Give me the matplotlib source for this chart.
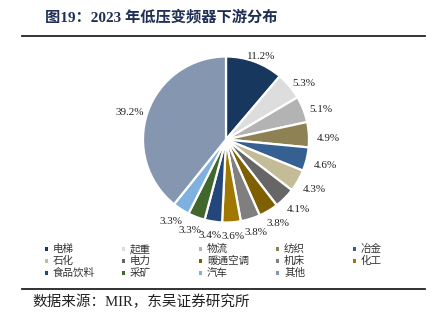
import numpy as np
import matplotlib
matplotlib.use("Agg")
import matplotlib.pyplot as plt
from matplotlib.patches import Rectangle
from matplotlib.lines import Line2D

plt.rcParams["font.family"] = ["Liberation Serif", "Noto Sans CJK SC"]
plt.rcParams["axes.unicode_minus"] = False

# ── 数据 ─────────────────────────────────────────
categories = ["电梯", "起重", "物流", "纺织", "冶金",
              "石化", "电力", "暖通空调", "机床", "化工",
              "食品饮料", "采矿", "汽车", "其他"]
shares = [11.2, 5.3, 5.1, 4.9, 4.6, 4.3, 4.1, 3.8, 3.8, 3.6, 3.4, 3.3, 3.3, 39.2]
colors = ["#17375E", "#DDDDDD", "#B3B3B3", "#8E8254", "#376092",
          "#C4BC96", "#666666", "#7F6000", "#7F7F7F", "#A07800",
          "#23477A", "#40672C", "#7EB0E0", "#8496B0"]

TITLE = "图19：2023 年低压变频器下游分布"
SOURCE = "数据来源：MIR，东吴证券研究所"

W, H = 436, 329
fig = plt.figure(figsize=(W / 100, H / 100), dpi=100)

# 饼图位置 (像素)
cx, cy, R = 226, 139.5, 83
half = 1.4 * R
ax = fig.add_axes([(cx - half) / W, (H - cy - half) / H, 2 * half / W, 2 * half / H])

wedges, _ = ax.pie(shares, colors=colors, startangle=90, counterclock=False,
                   radius=1.0, wedgeprops=dict(edgecolor="white", linewidth=1.6))
ax.set_xlim(-1.4, 1.4)
ax.set_ylim(-1.4, 1.4)
ax.axis("off")

# 数据标签：放在扇区外侧 (标签框贴着扇区外缘)
for w, v in zip(wedges, shares):
    th = np.deg2rad((w.theta1 + w.theta2) / 2)
    c, s = np.cos(th), np.sin(th)
    ax.text(1.23 * c, 1.12 * s - 0.05, f"{v:.1f}%", ha="center", va="center",
            fontsize=8, color="#222222", family="Liberation Serif")

# 标题与分隔线
fig.text(45 / W, 1 - 17 / H, TITLE, fontsize=11, fontweight="bold",
         color="#1F2F55", ha="left", va="center")
fig.add_artist(Line2D([22 / W, 425 / W], [1 - 35.5 / H] * 2, color="#222222", lw=1.3))
fig.add_artist(Line2D([22 / W, 425 / W], [1 - 289 / H] * 2, color="#222222", lw=1.3))
fig.text(32 / W, 1 - 302 / H, SOURCE, fontsize=10.5, color="#222222",
         ha="left", va="center")

# 图例 (5 列, 按行排列)
for i, (name, col) in enumerate(zip(categories, colors)):
    r, k = divmod(i, 5)
    x0 = 46 + k * 77
    y0 = 249 + r * 12
    fig.add_artist(Rectangle(((x0 - 1.5) / W, 1 - (y0 + 1.5) / H), 3.5 / W, 3.5 / H,
                             facecolor=col, edgecolor="none"))
    fig.text((x0 + 7) / W, 1 - y0 / H, name, fontsize=7.6, color="#333333",
             ha="left", va="center", family="Noto Sans CJK SC")

plt.savefig("out.png", dpi=100)
